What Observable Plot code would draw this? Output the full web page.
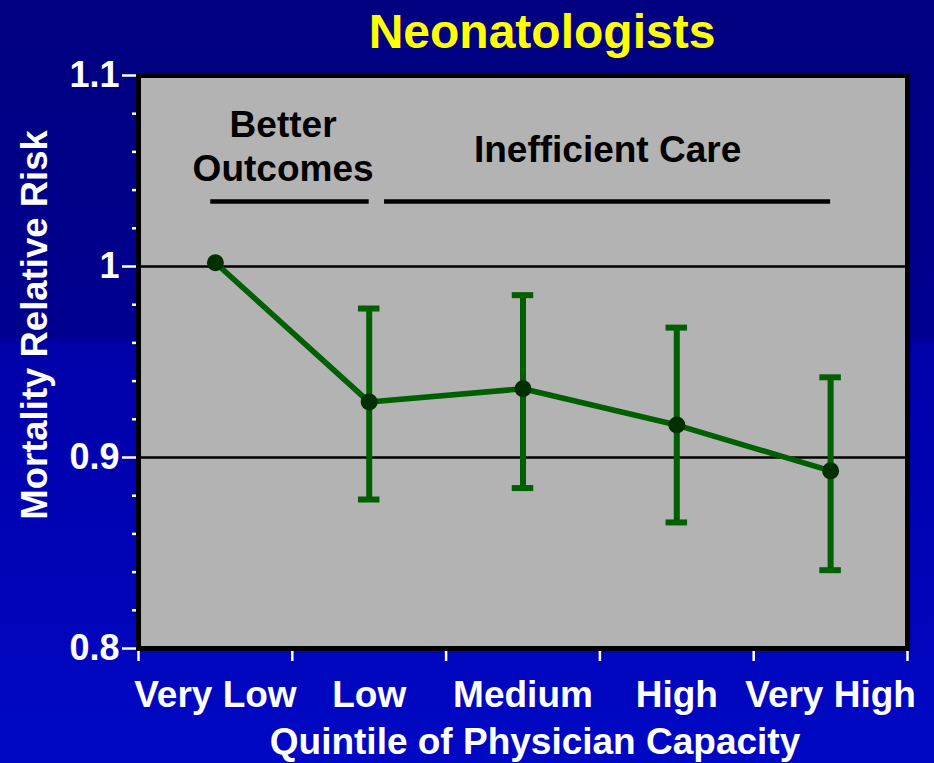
<!DOCTYPE html>
<html>
<head>
<meta charset="utf-8">
<script src="https://cdn.jsdelivr.net/npm/d3@7"></script>
<script src="https://cdn.jsdelivr.net/npm/@observablehq/plot@0.6"></script>
<style>
  html, body { margin: 0; padding: 0; }
  body {
    width: 934px; height: 763px; overflow: hidden;
    background: linear-gradient(to bottom, #000080 0%, #000090 44%, #0000a8 45%, #0008c4 100%);
  }
</style>
</head>
<body>
<div id="chart"></div>
<script>
const title = "Neonatologists";
const xTitle = "Quintile of Physician Capacity";
const yTitle = "Mortality Relative Risk";
const categories = ["Very Low", "Low", "Medium", "High", "Very High"];
const risk = [1.002, 0.929, 0.936, 0.917, 0.893];
const ciLow = [null, 0.878, 0.884, 0.866, 0.841];
const ciHigh = [null, 0.978, 0.985, 0.968, 0.942];
const yMajorTicks = [0.8, 0.9, 1.0, 1.1];
const yMinorTicks = [0.82, 0.84, 0.86, 0.88, 0.92, 0.94, 0.96, 0.98, 1.02, 1.04, 1.06, 1.08];
const refLines = [0.9, 1.0];
const annotLabels = ["Better\nOutcomes", "Inefficient Care"];
const annotX = [0.94, 3.05];
const annotY = [1.0637, 1.0623];
const bracketX1 = [0.47, 1.6];
const bracketX2 = [1.5, 4.5];
const bracketY = [1.034, 1.034];

const green = "#005f00";
const pts = categories.map((c, i) => ({cat: c, x: i + 0.5, y: risk[i], lo: ciLow[i], hi: ciHigh[i]}));
const ci = pts.filter(d => d.lo != null);
const capHalf = 0.07;
const caps = ci.flatMap(d => [{x: d.x, y: d.lo}, {x: d.x, y: d.hi}]);
const annots = annotLabels.map((t, i) => ({t, x: annotX[i], y: annotY[i]}));
const brackets = bracketX1.map((x1, i) => ({x1, x2: bracketX2[i], y: bracketY[i]}));
const fmt = d => String(+d.toFixed(2));
const font = "'Liberation Sans', Arial, Helvetica, sans-serif";

const chart = Plot.plot({
  width: 934,
  height: 763,
  marginLeft: 138,
  marginRight: 27,
  marginTop: 75,
  marginBottom: 115,
  style: {background: "transparent", fontFamily: font, fontWeight: "bold", overflow: "visible"},
  x: {domain: [0, 5], axis: null},
  y: {domain: [0.8, 1.1], axis: null},
  marks: [
    Plot.frame({fill: "#b3b3b3"}),
    Plot.ruleY(refLines, {stroke: "black", strokeWidth: 2.5}),
    Plot.axisY({ticks: yMinorTicks, tickSize: 6, tickFormat: () => "", color: "white", strokeWidth: 2.5, label: null}),
    Plot.axisY({ticks: yMajorTicks, tickSize: 16, tickPadding: 3, tickFormat: fmt, color: "white", strokeWidth: 2.5, fontSize: 36, fontWeight: "bold", label: null}),
    Plot.axisX({ticks: d3.range(categories.length + 1), tickSize: 13, tickFormat: () => "", color: "white", strokeWidth: 2.5, label: null}),
    Plot.axisX({ticks: categories.map((c, i) => i + 0.5), tickSize: 0, tickPadding: 32, tickFormat: d => categories[Math.floor(d)], color: "white", fontSize: 37, fontWeight: "bold", label: null}),
    Plot.ruleY(brackets, {x1: "x1", x2: "x2", y: "y", stroke: "black", strokeWidth: 4.5}),
    Plot.text(annots, {x: "x", y: "y", text: "t", fill: "black", fontSize: 37, fontWeight: "bold", lineHeight: 1.2}),
    Plot.ruleX(ci, {x: "x", y1: "lo", y2: "hi", stroke: green, strokeWidth: 6}),
    Plot.ruleY(caps, {x1: d => d.x - capHalf, x2: d => d.x + capHalf, y: "y", stroke: green, strokeWidth: 6}),
    Plot.line(pts, {x: "x", y: "y", stroke: green, strokeWidth: 5.5}),
    Plot.dot(pts, {x: "x", y: "y", r: 8.5, fill: "#003000", stroke: "none"}),
    Plot.frame({stroke: "black", strokeWidth: 5}),
    Plot.text([title], {text: d => d, frameAnchor: "top", textAnchor: "middle", lineAnchor: "middle", dx: 19, dy: -43, fill: "#ffff00", fontSize: 48, fontWeight: "bold"}),
    Plot.text([xTitle], {text: d => d, frameAnchor: "bottom", textAnchor: "middle", lineAnchor: "middle", dx: 12, dy: 94, fill: "white", fontSize: 37, fontWeight: "bold"}),
    Plot.text([yTitle], {text: d => d, frameAnchor: "left", textAnchor: "middle", lineAnchor: "middle", rotate: -90, dx: -103, dy: -37, fill: "white", fontSize: 36.5, fontWeight: "bold"})
  ]
});
document.getElementById("chart").append(chart);
</script>
</body>
</html>
